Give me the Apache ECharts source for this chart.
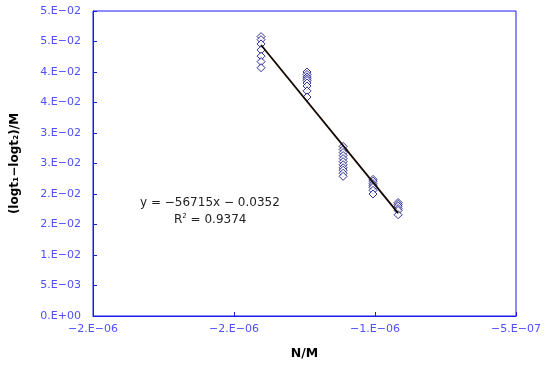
<!DOCTYPE html>
<html>
<head>
<meta charset="utf-8">
<script src="https://cdn.jsdelivr.net/npm/echarts@6/dist/echarts.min.js"></script>
<style>
  html, body { margin: 0; padding: 0; background: #fff; }
  #chart { width: 550px; height: 365px; }
</style>
</head>
<body>
<div id="chart"></div>
<script>
// x positions of the five measurement groups (N/M)
const groupX = [-1.404e-6, -1.241e-6, -1.113e-6, -1.007e-6, -0.918e-6];

// y values
const group1 = [0.0458, 0.0453, 0.0446, 0.0436, 0.0426, 0.0417, 0.0407];
const group2 = [0.0400, 0.0396, 0.0392, 0.0389, 0.0386, 0.0382, 0.0377, 0.0369, 0.0359];
const group3 = [0.0278, 0.0273, 0.0268, 0.0263, 0.0258, 0.0253, 0.0248, 0.0243, 0.0239, 0.0234, 0.0229];
const group4 = [0.0224, 0.0221, 0.0217, 0.0214, 0.0211, 0.0206, 0.0200];
const group5 = [0.0186, 0.0183, 0.0180, 0.0176, 0.0173, 0.0166];

const yTickLabels = ["0.E+00", "5.E\u221203", "1.E\u221202", "2.E\u221202", "2.E\u221202", "3.E\u221202",
  "3.E\u221202", "4.E\u221202", "4.E\u221202", "5.E\u221202", "5.E\u221202"];
const xTickLabels = ["\u22122.E\u221206", "\u22122.E\u221206", "\u22121.E\u221206", "\u22125.E\u221207"];

// linear trendline reported by the chart
const slope = -56715;
const intercept = -0.0352;
const trendX = [groupX[0], groupX[groupX.length - 1]];

const groups = [group1, group2, group3, group4, group5];
const points = [];
groups.forEach((g, i) => g.forEach((v) => points.push([groupX[i], v])));

const blue = "#1a1aee";
const labelBlue = "#4f4fff";
const font = "DejaVu Sans";

const chart = echarts.init(document.getElementById("chart"), null, { renderer: "canvas" });

chart.setOption({
  animation: false,
  backgroundColor: "#fff",
  grid: { left: 93, right: 34, top: 11, bottom: 48, show: true, borderColor: blue, borderWidth: 1 },
  xAxis: {
    type: "value",
    min: -2e-6,
    max: -5e-7,
    interval: 5e-7,
    name: "N/M",
    nameLocation: "middle",
    nameGap: 31,
    nameTextStyle: { fontFamily: font, fontSize: 12.5, fontWeight: "bold", color: "#000" },
    axisLine: { lineStyle: { color: blue } },
    axisTick: { inside: true, length: 4, lineStyle: { color: blue } },
    splitLine: { show: false },
    axisLabel: {
      margin: 8,
      fontFamily: font,
      fontSize: 11,
      color: labelBlue,
      showMinLabel: true,
      showMaxLabel: true,
      formatter: (v) => xTickLabels[Math.round((v + 2e-6) / 5e-7)] || ""
    }
  },
  yAxis: {
    type: "value",
    min: 0,
    max: 0.05,
    interval: 0.005,
    name: "(logt\u2081\u2212logt\u2082)/M",
    nameLocation: "middle",
    nameGap: 72,
    nameTextStyle: { fontFamily: font, fontSize: 12, fontWeight: "bold", color: "#000" },
    axisLine: { lineStyle: { color: blue } },
    axisTick: { inside: true, length: 4, lineStyle: { color: blue } },
    splitLine: { show: false },
    axisLabel: {
      margin: 12,
      fontFamily: font,
      fontSize: 11,
      color: labelBlue,
      formatter: (v) => yTickLabels[Math.round(v / 0.005)] || ""
    }
  },
  series: [
    {
      type: "scatter",
      data: points,
      symbol: "diamond",
      symbolSize: [8, 8],
      itemStyle: { color: "#fff", borderColor: "#00007a", borderWidth: 1 },
      z: 2
    },
    {
      type: "line",
      data: trendX.map((x) => [x, slope * x + intercept]),
      symbol: "none",
      lineStyle: { color: "#140600", width: 1.8 },
      z: 3
    }
  ],
  graphic: [
    {
      type: "text",
      left: 140,
      top: 197,
      style: { text: "y = \u221256715x \u2212 0.0352", font: "12px " + font, fill: "#222" }
    },
    {
      type: "text",
      left: 174,
      top: 213,
      style: {
        text: "{r|R}{s|2}{r| = 0.9374}",
        rich: {
          r: { font: "12px " + font, fill: "#222" },
          s: { font: "7px " + font, fill: "#222", verticalAlign: "top", padding: [0, 0, 6, 0] }
        }
      }
    }
  ]
});
</script>
</body>
</html>
